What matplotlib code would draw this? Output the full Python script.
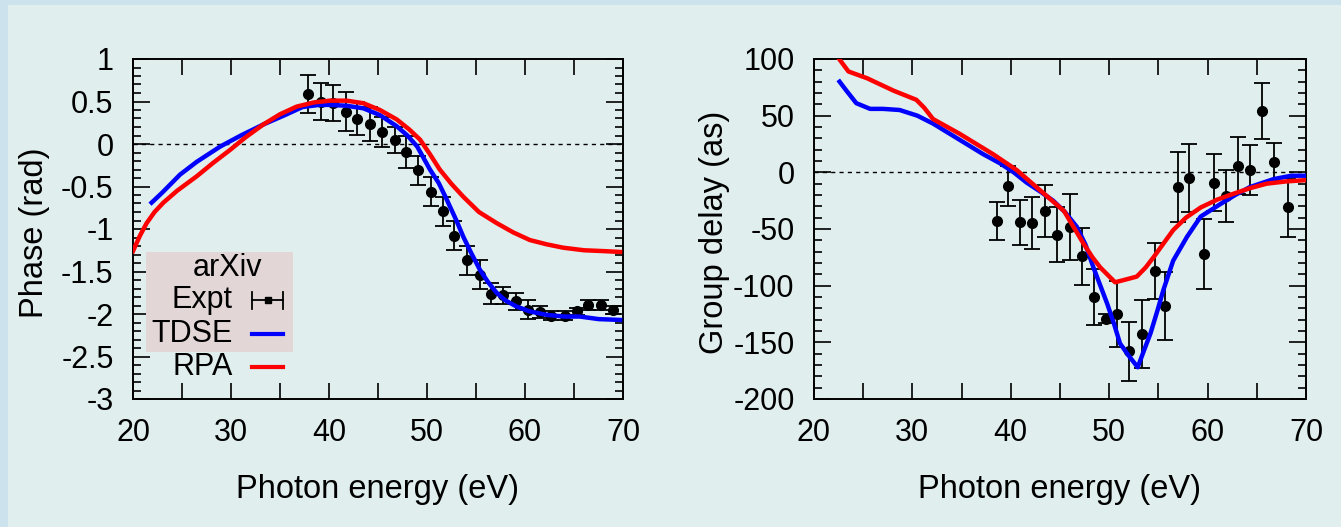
import numpy as np
import matplotlib
matplotlib.use('Agg')
import matplotlib.pyplot as plt
from matplotlib.patches import Rectangle
from matplotlib.ticker import MultipleLocator

plt.rcParams['font.family'] = ['Liberation Sans', 'DejaVu Sans']
plt.rcParams['axes.unicode_minus'] = False

# ---- left panel: phase (rad) ----
tdse_phase_e = [21.9, 23.0, 24.8, 26.5, 28.9, 31.0, 33.3, 35.5, 37.3, 39.0, 40.1, 41.8,
                43.5, 45.2, 46.9, 48.0, 49.0, 50.3, 51.2, 52.0, 53.0, 53.7, 54.5, 55.4,
                56.2, 57.1, 58.0, 59.1, 60.5, 62.2, 64.0, 65.6, 67.5, 69.7]
tdse_phase = [-0.69, -0.57, -0.36, -0.21, -0.03, 0.10, 0.23, 0.34, 0.435, 0.46, 0.46, 0.45,
              0.42, 0.34, 0.21, 0.10, -0.03, -0.30, -0.46, -0.65, -0.90, -1.09, -1.28, -1.48,
              -1.62, -1.75, -1.84, -1.91, -1.97, -2.01, -2.03, -2.03, -2.06, -2.07]

rpa_phase_e = [20.0, 20.7, 21.4, 22.2, 23.1, 24.5, 26.5, 28.2, 29.9, 31.5, 33.3, 35.0,
               36.7, 38.5, 40.1, 41.8, 43.5, 45.2, 46.9, 48.2, 49.3, 50.3, 51.3, 52.5,
               53.7, 55.3, 57.1, 58.8, 60.5, 62.2, 63.9, 66.0, 68.0, 69.7]
rpa_phase = [-1.26, -1.08, -0.93, -0.80, -0.69, -0.55, -0.38, -0.22, -0.07, 0.08, 0.23, 0.35,
             0.44, 0.49, 0.51, 0.51, 0.48, 0.40, 0.29, 0.17, 0.05, -0.12, -0.30, -0.47,
             -0.62, -0.80, -0.93, -1.04, -1.13, -1.18, -1.22, -1.25, -1.26, -1.27]

expt_phase_e = [37.9, 39.15, 40.4, 41.7, 42.9, 44.2, 45.4, 46.7, 47.9, 49.1, 50.4, 51.6,
                52.8, 54.1, 55.4, 56.5, 57.8, 59.05, 60.3, 61.5, 62.7, 64.1, 65.3, 66.4,
                67.8, 69.0]
expt_phase = [0.59, 0.50, 0.48, 0.38, 0.30, 0.23, 0.14, 0.05, -0.09, -0.31, -0.56, -0.79,
              -1.08, -1.37, -1.54, -1.76, -1.78, -1.85, -1.95, -1.98, -2.02, -2.02, -1.97, -1.89,
              -1.89, -1.95]
expt_phase_err = [0.22, 0.22, 0.21, 0.23, 0.19, 0.20, 0.18, 0.15, 0.19, 0.17, 0.17, 0.17,
                  0.17, 0.17, 0.17, 0.12, 0.10, 0.10, 0.11, 0.07, 0.05, 0.05, 0.04, 0.06,
                  0.06, 0.05]

# ---- right panel: group delay (as) ----
tdse_gd_e = [22.6, 23.3, 24.3, 25.7, 27.0, 28.7, 30.5, 32.1, 33.8, 35.5, 37.2, 38.9, 40.3,
             41.6, 43.0, 44.3, 45.5, 46.7, 47.6, 48.4, 49.1, 49.8, 50.5, 51.1, 52.0, 52.9,
             53.5, 54.2, 54.9, 55.5, 56.5, 57.9, 59.3, 61.3, 62.8, 64.3, 66.7, 68.5, 69.8]
tdse_gd = [80, 72, 61, 56, 56, 55, 50, 43, 34, 25, 16, 8, 0,
           -9, -17, -25, -35, -48, -64, -84, -100, -116, -134, -151, -162, -172,
           -158, -142, -122, -104, -78, -57, -39, -28, -20, -13, -6, -3, -3]

rpa_gd_e = [22.3, 23.5, 25.4, 28.1, 30.4, 31.2, 32.1, 34.8, 36.5, 38.2, 40.6, 43.0, 45.4,
            46.5, 47.4, 48.3, 49.1, 50.6, 51.5, 52.8, 53.7, 54.5, 55.5, 56.5, 57.8, 59.3,
            61.0, 62.6, 64.3, 66.0, 68.0, 69.8]
rpa_gd = [103, 89, 83, 72, 64, 57, 47, 34, 25, 16, 2, -16, -34,
          -50, -63, -75, -84, -97, -95, -92, -84, -75, -63, -51, -40, -31,
          -24, -19, -14, -10, -8, -7]

expt_gd_e = [38.6, 39.7, 40.9, 42.2, 43.5, 44.7, 46.0, 47.2, 48.5, 49.7, 50.8, 52.0, 53.3,
             54.7, 55.7, 56.96, 58.14, 59.6, 60.65, 61.87, 63.12, 64.3, 65.56, 66.78, 68.14]
expt_gd = [-43, -12, -44, -45, -34, -55, -48, -74, -110, -129, -125, -158, -143,
           -87, -118, -13, -5, -72, -9, -21, 6, 2, 54, 9, -31]
expt_gd_err = [17, 18, 20, 23, 23, 24, 29, 25, 25, 4, 29, 26, 30,
               25, 30, 31, 30, 31, 25, 23, 25, 22, 25, 17, 26]

bg = '#e0eeee'
fs = 22      # tick labels / legend
fs_lab = 23.5  # axis titles

fig = plt.figure(figsize=(13.41, 5.27), dpi=100, facecolor=bg)
# light blue frame on the left and top edges
fig.patches.append(Rectangle((0, 0), 8 / 1341, 1, transform=fig.transFigure,
                             facecolor='#cce2ec', edgecolor='none', zorder=-10))
fig.patches.append(Rectangle((0, 1 - 5 / 527), 1, 5 / 527, transform=fig.transFigure,
                             facecolor='#cce2ec', edgecolor='none', zorder=-10))

ax1 = fig.add_axes([133 / 1341, 128 / 527, 490 / 1341, 340 / 527])
ax2 = fig.add_axes([814 / 1341, 128 / 527, 492 / 1341, 340 / 527])


def style(ax, ymajor, yminor):
    ax.set_facecolor(bg)
    for s in ax.spines.values():
        s.set_linewidth(1.4)
    ax.set_xlim(20, 70)
    ax.xaxis.set_major_locator(MultipleLocator(10))
    ax.xaxis.set_minor_locator(MultipleLocator(5))
    ax.yaxis.set_major_locator(MultipleLocator(ymajor))
    ax.yaxis.set_minor_locator(MultipleLocator(yminor))
    ax.tick_params(which='both', direction='in', top=True, right=True, width=1.2,
                   labelsize=fs, pad=14)
    ax.tick_params(axis='x', which='both', length=11.5)
    ax.tick_params(axis='y', which='major', length=12)
    ax.tick_params(axis='y', which='minor', length=6)
    ax.axhline(0, color='black', lw=1, ls=(0, (3, 3)), zorder=1)
    ax.set_xlabel('Photon energy (eV)', fontsize=fs_lab)
    ax.xaxis.set_label_coords(0.5, -0.22)


style(ax1, 0.5, 0.1)
ax1.set_ylim(-3, 1)
ax1.set_yticks(np.arange(-3, 1.01, 0.5))
ax1.set_yticklabels(['-3', '-2.5', '-2', '-1.5', '-1', '-0.5', '0', '0.5', '1'])
ax1.set_ylabel('Phase (rad)', fontsize=fs_lab)
ax1.yaxis.set_label_coords(-0.17, 0.49)

ax1.errorbar(expt_phase_e, expt_phase, yerr=expt_phase_err, fmt='o', color='black',
             ms=7, elinewidth=1.3, capsize=5.5, capthick=1.3, zorder=3)
ax1.plot(tdse_phase_e, tdse_phase, color='#0000ff', lw=3.2, zorder=4)
ax1.plot(rpa_phase_e, rpa_phase, color='#ff0000', lw=3.2, zorder=5)

# legend box (gnuplot style, drawn in axes coordinates)
ax1.add_patch(Rectangle((0.027, 0.138), 0.30, 0.294, transform=ax1.transAxes,
                        facecolor='#e2d6d6', edgecolor='none', zorder=2))
ax1.text(0.192, 0.385, 'arXiv', transform=ax1.transAxes, ha='center', va='center',
         fontsize=fs, zorder=6)
for lab, yy in [('Expt', 0.291), ('TDSE', 0.191), ('RPA', 0.094)]:
    ax1.text(0.204, yy, lab, transform=ax1.transAxes, ha='right', va='center',
             fontsize=fs, zorder=6)
ax1.plot([0.243, 0.306], [0.291, 0.291], transform=ax1.transAxes, color='black', lw=1.3, zorder=6)
ax1.plot([0.243, 0.243], [0.266, 0.316], transform=ax1.transAxes, color='black', lw=1.3, zorder=6)
ax1.plot([0.306, 0.306], [0.266, 0.316], transform=ax1.transAxes, color='black', lw=1.3, zorder=6)
ax1.plot([0.2745], [0.291], 's', transform=ax1.transAxes, color='black', ms=5, zorder=6)
ax1.plot([0.243, 0.306], [0.191, 0.191], transform=ax1.transAxes, color='#0000ff', lw=3, zorder=6)
ax1.plot([0.243, 0.306], [0.094, 0.094], transform=ax1.transAxes, color='#ff0000', lw=3, zorder=6)

style(ax2, 50, 10)
ax2.set_ylim(-200, 100)
ax2.set_ylabel('Group delay (as)', fontsize=fs_lab)
ax2.yaxis.set_label_coords(-0.171, 0.49)

ax2.errorbar(expt_gd_e, expt_gd, yerr=expt_gd_err, fmt='o', color='black',
             ms=7, elinewidth=1.3, capsize=5.5, capthick=1.3, zorder=3)
ax2.plot(tdse_gd_e, tdse_gd, color='#0000ff', lw=3.2, zorder=4)
ax2.plot(rpa_gd_e, rpa_gd, color='#ff0000', lw=3.2, zorder=5)

fig.savefig('out.png', dpi=100, facecolor=bg)
